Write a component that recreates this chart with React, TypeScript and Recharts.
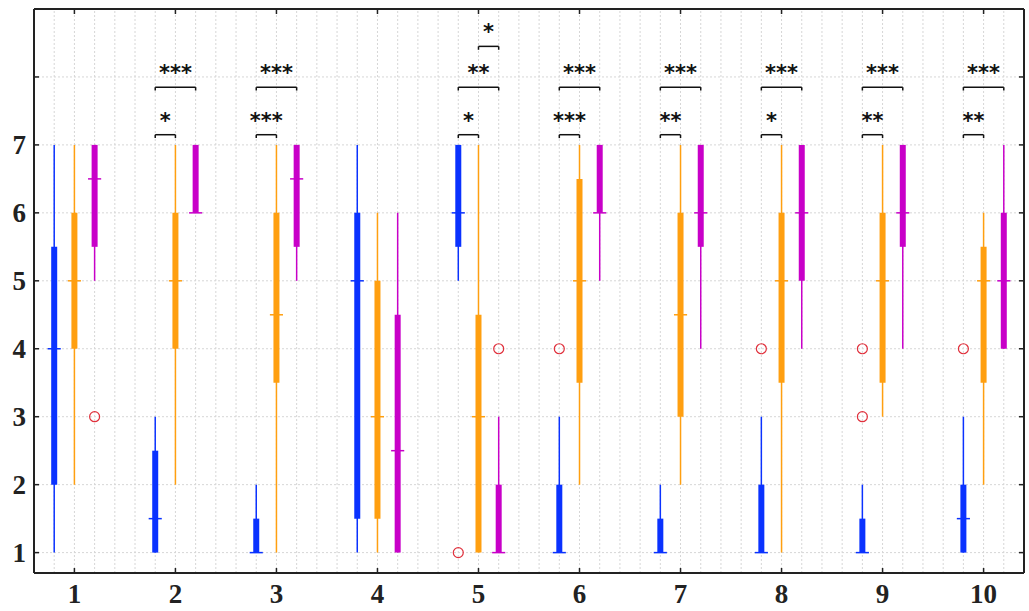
import React from "react";
import { ComposedChart, XAxis, YAxis, CartesianGrid, ReferenceLine, Scatter } from "recharts";

const categories = [1, 2, 3, 4, 5, 6, 7, 8, 9, 10];
const yTicks = [1, 2, 3, 4, 5, 6, 7, 8, 9];
const yLabels = ["1", "2", "3", "4", "5", "6", "7", "", ""];

// blue group
const blueLow = [1, 1, 1, 1, 5, 1, 1, 1, 1, 1];
const blueQ1 = [2, 1, 1, 1.5, 5.5, 1, 1, 1, 1, 1];
const blueMed = [4, 1.5, 1, 5, 6, 1, 1, 1, 1, 1.5];
const blueQ3 = [5.5, 2.5, 1.5, 6, 7, 2, 1.5, 2, 1.5, 2];
const blueHigh = [7, 3, 2, 7, 7, 3, 2, 3, 2, 3];

// orange group
const orangeLow = [2, 2, 1, 1, 1, 2, 2, 1, 3, 2];
const orangeQ1 = [4, 4, 3.5, 1.5, 1, 3.5, 3, 3.5, 3.5, 3.5];
const orangeMed = [5, 5, 4.5, 3, 3, 5, 4.5, 5, 5, 5];
const orangeQ3 = [6, 6, 6, 5, 4.5, 6.5, 6, 6, 6, 5.5];
const orangeHigh = [7, 7, 7, 6, 7, 7, 7, 7, 7, 6];

// magenta group
const magentaLow = [5, 6, 5, 1, 1, 5, 4, 4, 4, 4];
const magentaQ1 = [5.5, 6, 5.5, 1, 1, 6, 5.5, 5, 5.5, 4];
const magentaMed = [6.5, 6, 6.5, 2.5, 1, 6, 6, 6, 6, 5];
const magentaQ3 = [7, 7, 7, 4.5, 2, 7, 7, 7, 7, 6];
const magentaHigh = [7, 7, 7, 6, 3, 7, 7, 7, 7, 7];

// outliers
const outlierCategory = [1, 5, 5, 6, 8, 9, 9, 10];
const outlierSeries = [2, 0, 2, 0, 0, 0, 0, 0];
const outlierValue = [3, 1, 4, 4, 4, 4, 3, 4];

// significance brackets
const sigCategory = [2, 2, 3, 3, 5, 5, 5, 6, 6, 7, 7, 8, 8, 9, 9, 10, 10];
const sigFrom = [0, 0, 0, 0, 0, 0, 1, 0, 0, 0, 0, 0, 0, 0, 0, 0, 0];
const sigTo = [1, 2, 1, 2, 1, 2, 2, 1, 2, 1, 2, 1, 2, 1, 2, 1, 2];
const sigLevel = [7.15, 7.85, 7.15, 7.85, 7.15, 7.85, 8.45, 7.15, 7.85, 7.15, 7.85, 7.15, 7.85, 7.15, 7.85, 7.15, 7.85];
const sigLabel = ["*", "***", "***", "***", "*", "**", "*", "***", "***", "**", "***", "*", "***", "**", "***", "**", "***"];

const series = [
  { offset: -0.2, color: "#0a32ff", low: blueLow, q1: blueQ1, med: blueMed, q3: blueQ3, high: blueHigh },
  { offset: 0, color: "#ff9f10", low: orangeLow, q1: orangeQ1, med: orangeMed, q3: orangeQ3, high: orangeHigh },
  { offset: 0.2, color: "#c800c8", low: magentaLow, q1: magentaQ1, med: magentaMed, q3: magentaQ3, high: magentaHigh },
];

const gridX = categories
  .flatMap((c) => [c - 0.2, c, c + 0.2, c + 0.4, c + 0.6])
  .filter((v) => v < 10.3);

const outliers = outlierCategory.map((c, i) => ({
  x: c + series[outlierSeries[i]].offset,
  y: outlierValue[i],
}));

const sigTexts = sigCategory.map((c, i) => ({
  x: c + (series[sigFrom[i]].offset + series[sigTo[i]].offset) / 2,
  y: sigLevel[i],
  label: sigLabel[i],
}));

// invisible point so the mirrored frame axes have a series bound to them
const frameAnchor = [{ x: 1, y: 1 }];

const tickFont = { fontFamily: "Liberation Serif", fontWeight: 700, fontSize: 27, fill: "#222" };
const axisLine = { stroke: "#222", strokeWidth: 2 };
const tickLine = { stroke: "#222", strokeWidth: 1.5 };

const App = () => {
  const whisk = 0.065;
  const tickDrop = 0.05;

  return (
    <div style={{ position: "absolute", left: 0, top: 0 }}>
      <ComposedChart width={1029} height={611} margin={{ top: 8, right: 4, bottom: 0, left: 0 }}>
        <CartesianGrid vertical={false} stroke="#d6d6d6" strokeDasharray="2 2" />
        <XAxis
          type="number"
          dataKey="x"
          domain={[0.6, 10.4]}
          ticks={categories}
          interval={0}
          allowDataOverflow
          height={38}
          axisLine={axisLine}
          tickLine={tickLine}
          tickSize={-5}
          tickMargin={16}
          tick={tickFont}
        />
        <XAxis
          xAxisId="top"
          orientation="top"
          type="number"
          dataKey="x"
          domain={[0.6, 10.4]}
          ticks={categories}
          interval={0}
          allowDataOverflow
          height={1}
          axisLine={axisLine}
          tickLine={tickLine}
          tickSize={-5}
          tickFormatter={() => ""}
        />
        <YAxis
          type="number"
          dataKey="y"
          domain={[0.7, 9]}
          ticks={yTicks}
          interval={0}
          allowDataOverflow
          width={34}
          axisLine={axisLine}
          tickLine={tickLine}
          tickSize={-5}
          tickMargin={13}
          tick={tickFont}
          tickFormatter={(v: number) => yLabels[yTicks.indexOf(v)] ?? ""}
        />
        <YAxis
          yAxisId="right"
          orientation="right"
          type="number"
          dataKey="y"
          domain={[0.7, 9]}
          ticks={yTicks}
          interval={0}
          allowDataOverflow
          width={1}
          axisLine={axisLine}
          tickLine={tickLine}
          tickSize={-5}
          tickFormatter={() => ""}
        />

        {gridX.map((v, i) => (
          <ReferenceLine key={`gx${i}`} x={v} stroke="#d6d6d6" strokeDasharray="2 2" />
        ))}

        {series.map((s, si) =>
          categories.map((c, ci) => (
            <ReferenceLine
              key={`w${si}-${ci}`}
              segment={[{ x: c + s.offset, y: s.low[ci] }, { x: c + s.offset, y: s.high[ci] }]}
              stroke={s.color}
              strokeWidth={1.5}
            />
          ))
        )}
        {series.map((s, si) =>
          categories.map((c, ci) => (
            <ReferenceLine
              key={`b${si}-${ci}`}
              segment={[{ x: c + s.offset, y: s.q1[ci] }, { x: c + s.offset, y: s.q3[ci] }]}
              stroke={s.color}
              strokeWidth={6}
            />
          ))
        )}
        {series.map((s, si) =>
          categories.map((c, ci) => (
            <ReferenceLine
              key={`m${si}-${ci}`}
              segment={[{ x: c + s.offset - whisk, y: s.med[ci] }, { x: c + s.offset + whisk, y: s.med[ci] }]}
              stroke={s.color}
              strokeWidth={1.5}
            />
          ))
        )}

        {sigCategory.map((c, i) => {
          const x1 = c + series[sigFrom[i]].offset;
          const x2 = c + series[sigTo[i]].offset;
          const y = sigLevel[i];
          return [
            <ReferenceLine key={`sh${i}`} segment={[{ x: x1, y }, { x: x2, y }]} stroke="#111" strokeWidth={1.5} />,
            <ReferenceLine key={`sl${i}`} segment={[{ x: x1, y }, { x: x1, y: y - tickDrop }]} stroke="#111" strokeWidth={1.5} />,
            <ReferenceLine key={`sr${i}`} segment={[{ x: x2, y }, { x: x2, y: y - tickDrop }]} stroke="#111" strokeWidth={1.5} />,
          ];
        })}

        <Scatter
          xAxisId="top"
          yAxisId="right"
          data={frameAnchor}
          isAnimationActive={false}
          shape={() => <g />}
        />
        <Scatter
          data={outliers}
          isAnimationActive={false}
          shape={(p: any) => (
            <circle cx={p.cx} cy={p.cy} r={5} fill="none" stroke="#e0303c" strokeWidth={1.2} />
          )}
        />
        <Scatter
          data={sigTexts}
          isAnimationActive={false}
          shape={(p: any) => (
            <text
              x={p.cx}
              y={p.cy - 7}
              textAnchor="middle"
              fontFamily="DejaVu Sans"
              fontWeight={700}
              fontSize={21}
              fill="#111"
            >
              {p.payload.label}
            </text>
          )}
        />
      </ComposedChart>
    </div>
  );
};

export default App;
